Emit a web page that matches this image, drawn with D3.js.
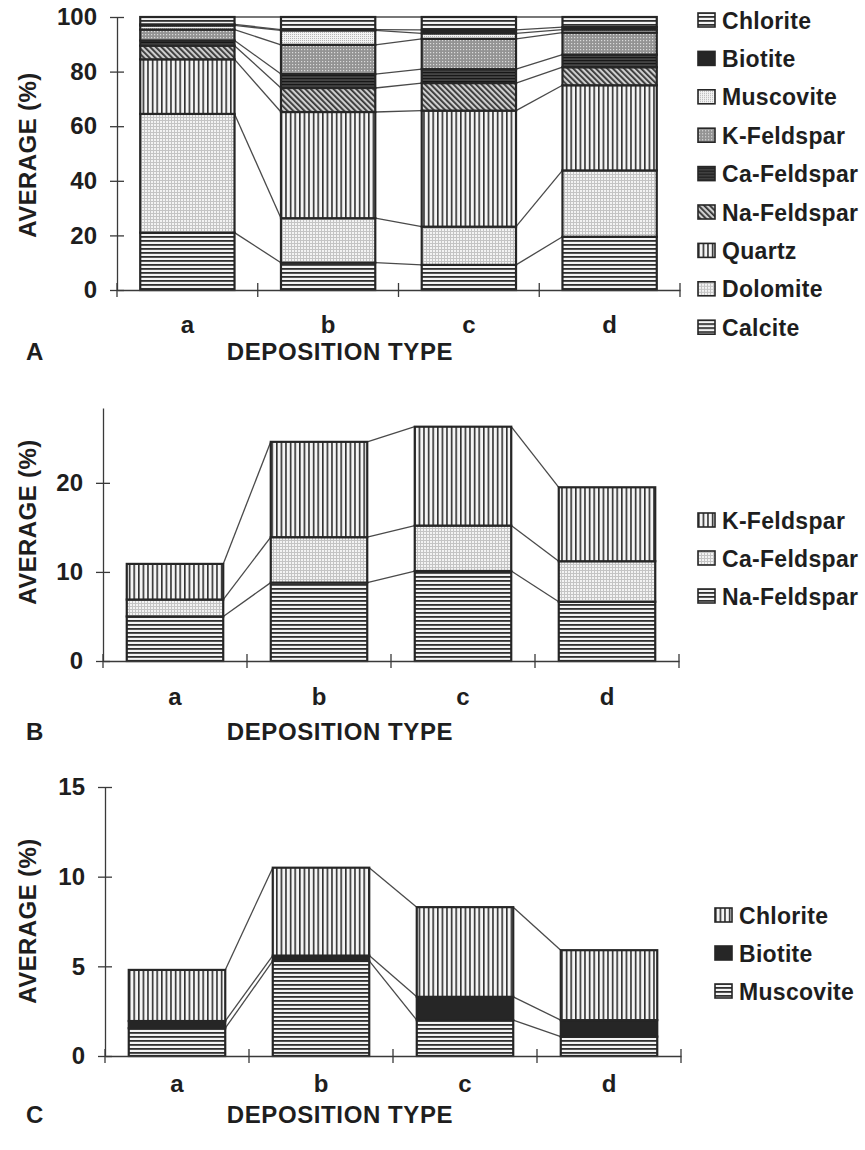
<!DOCTYPE html>
<html>
<head>
<meta charset="utf-8">
<script src="https://cdn.jsdelivr.net/npm/d3@7"></script>
<style>
  body { margin: 0; background: #fff; }
  svg text { font-family: "Liberation Sans", Arial, Helvetica, sans-serif; fill: #1e1e1e; font-weight: bold; }
</style>
</head>
<body>
<div id="chart"></div>
<script>
// Mineral composition by deposition type, three stacked panels (A, B, C).

const categories = ['a', 'b', 'c', 'd'];

// Panel A — all minerals, stacked bottom to top
const mineralsA   = ['Calcite', 'Dolomite', 'Quartz', 'Na-Feldspar', 'Ca-Feldspar', 'K-Feldspar', 'Muscovite', 'Biotite', 'Chlorite'];
const calciteA    = [21.0, 10.0, 9.2, 19.5];
const dolomiteA   = [43.5, 16.3, 14.0, 24.3];
const quartzA     = [20.0, 38.9, 42.5, 31.2];
const naFeldsparA = [5.0, 8.8, 10.1, 6.6];
const caFeldsparA = [1.9, 5.1, 5.1, 4.6];
const kFeldsparA  = [4.0, 10.7, 11.1, 8.1];
const muscoviteA  = [1.5, 5.3, 2.0, 1.1];
const biotiteA    = [0.4, 0.3, 1.3, 0.9];
const chloriteA   = [2.7, 4.6, 4.7, 3.7];
const ticksA      = [0, 20, 40, 60, 80, 100];

// Panel B — feldspars
const mineralsB   = ['Na-Feldspar', 'Ca-Feldspar', 'K-Feldspar'];
const naFeldsparB = [5.0, 8.8, 10.1, 6.65];
const caFeldsparB = [1.9, 5.1, 5.1, 4.55];
const kFeldsparB  = [4.0, 10.7, 11.1, 8.3];
const ticksB      = [0, 10, 20];

// Panel C — micas
const mineralsC   = ['Muscovite', 'Biotite', 'Chlorite'];
const muscoviteC  = [1.55, 5.3, 2.0, 1.08];
const biotiteC    = [0.4, 0.3, 1.3, 0.92];
const chloriteC   = [2.85, 4.9, 5.0, 3.9];
const ticksC      = [0, 5, 10, 15];

const W = 865, H = 1150;
const svg = d3.select('#chart').append('svg')
  .attr('width', W).attr('height', H)
  .attr('viewBox', [0, 0, W, H]);

// ---- fill patterns imitating the scanned hatching ----
const defs = svg.append('defs');

function pattern(id, w, h, draw, transform) {
  const p = defs.append('pattern').attr('id', id)
    .attr('patternUnits', 'userSpaceOnUse').attr('width', w).attr('height', h);
  if (transform) p.attr('patternTransform', transform);
  draw(p);
}

pattern('hline', 8, 4, p => {
  p.append('rect').attr('width', 8).attr('height', 4).attr('fill', '#f4f4f4');
  p.append('rect').attr('width', 8).attr('height', 1.8).attr('fill', '#303030');
});
pattern('vline', 4.6, 8, p => {
  p.append('rect').attr('width', 4.6).attr('height', 8).attr('fill', '#f4f4f4');
  p.append('rect').attr('width', 1.6).attr('height', 8).attr('fill', '#303030');
});
pattern('grid', 3, 3, p => {
  p.append('rect').attr('width', 3).attr('height', 3).attr('fill', '#f3f3f3');
  p.append('rect').attr('width', 3).attr('height', 1).attr('fill', '#c4c4c4');
  p.append('rect').attr('width', 1).attr('height', 3).attr('fill', '#c4c4c4');
});
pattern('diag', 4, 8, p => {
  p.append('rect').attr('width', 4).attr('height', 8).attr('fill', '#cfcfcf');
  p.append('rect').attr('width', 1.8).attr('height', 8).attr('fill', '#333');
}, 'rotate(-45)');
pattern('darkh', 6, 3, p => {
  p.append('rect').attr('width', 6).attr('height', 3).attr('fill', '#454545');
  p.append('rect').attr('width', 6).attr('height', 1.2).attr('fill', '#181818');
});
pattern('kgrey', 3, 3, p => {
  p.append('rect').attr('width', 3).attr('height', 3).attr('fill', '#939393');
  p.append('rect').attr('x', 1).attr('y', 1).attr('width', 1.2).attr('height', 1.2).attr('fill', '#dadada');
});
pattern('musc', 2, 2, p => {
  p.append('rect').attr('width', 2).attr('height', 2).attr('fill', '#f2f2f2');
  p.append('rect').attr('width', 1).attr('height', 1).attr('fill', '#b4b4b4');
});
pattern('solid', 4, 4, p => {
  p.append('rect').attr('width', 4).attr('height', 4).attr('fill', '#262626');
});

const ink = '#262626';

function drawPanel(p) {
  const g = svg.append('g');

  const x = d3.scaleBand().domain(categories)
    .range([p.x0, p.x1]).paddingInner(0.33).paddingOuter(0.165);
  const y = d3.scaleLinear().domain([0, p.yMax]).range([p.yBottom, p.yTop]);

  const rows = categories.map((c, i) => {
    const r = { cat: c };
    p.names.forEach((n, k) => { r[n] = p.series[k][i]; });
    return r;
  });
  const stacked = d3.stack().keys(p.names)(rows);

  // thin connectors between neighbouring bars at every layer boundary
  stacked.forEach(layer => {
    d3.pairs(layer).forEach(([l, r]) => {
      g.append('line')
        .attr('x1', x(l.data.cat) + x.bandwidth()).attr('y1', y(l[1]))
        .attr('x2', x(r.data.cat)).attr('y2', y(r[1]))
        .attr('stroke', '#4a4a4a').attr('stroke-width', 1.3);
    });
  });

  // stacked segments
  stacked.forEach((layer, k) => {
    g.append('g').selectAll('rect').data(layer).join('rect')
      .attr('x', d => x(d.data.cat))
      .attr('y', d => y(d[1]))
      .attr('width', x.bandwidth())
      .attr('height', d => y(d[0]) - y(d[1]))
      .attr('fill', `url(#${p.fills[k]})`)
      .attr('stroke', ink).attr('stroke-width', 2.2);
  });

  // y axis with ticks crossing the line
  const ya = g.append('g').attr('transform', `translate(${p.x0},0)`)
    .call(d3.axisLeft(y).tickValues(p.ticks).tickSize(7).tickSizeOuter(0).tickPadding(13));
  ya.selectAll('.tick line').attr('x1', 7);
  ya.selectAll('path, line').attr('stroke', '#3a3a3a').attr('stroke-width', 1.3);
  ya.selectAll('text').attr('font-size', 24).attr('font-family', null).attr('fill', null);

  // x axis: labels under bars, tick marks at band boundaries
  const xa = g.append('g').attr('transform', `translate(0,${p.yBottom})`)
    .call(d3.axisBottom(x).tickSize(0).tickSizeOuter(0));
  xa.select('.domain').attr('stroke', '#3a3a3a').attr('stroke-width', 1.3);
  xa.selectAll('text').attr('font-size', 24).attr('font-family', null).attr('fill', null)
    .attr('y', p.labelDy).attr('dy', 0);
  xa.selectAll('.bound').data(d3.range(categories.length + 1)).join('line')
    .attr('x1', i => p.x0 + i * x.step()).attr('x2', i => p.x0 + i * x.step())
    .attr('y1', -7).attr('y2', 7)
    .attr('stroke', '#3a3a3a').attr('stroke-width', 1.3);

  // axis titles and panel letter
  g.append('text')
    .attr('transform', `translate(36,${p.yTitleY}) rotate(-90)`)
    .attr('text-anchor', 'middle').attr('font-size', 24).attr('letter-spacing', 0.4)
    .text('AVERAGE (%)');
  g.append('text')
    .attr('x', 340).attr('y', p.titleY)
    .attr('text-anchor', 'middle').attr('font-size', 24).attr('letter-spacing', 0.6)
    .text('DEPOSITION TYPE');
  g.append('text')
    .attr('x', 26).attr('y', p.titleY)
    .attr('font-size', 24).attr('font-weight', 'normal')
    .text(p.letter);

  // legend (top entry listed first)
  const lg = g.append('g').selectAll('g').data(p.legend).join('g')
    .attr('transform', (d, i) => `translate(${p.legendX},${p.legendY + i * p.legendStep})`);
  lg.append('rect')
    .attr('x', 0).attr('y', -7).attr('width', 17).attr('height', 14)
    .attr('fill', d => `url(#${p.fills[p.names.indexOf(d)]})`)
    .attr('stroke', ink).attr('stroke-width', 1.6);
  lg.append('text')
    .attr('x', 24).attr('y', 8.5)
    .attr('font-size', 23).attr('letter-spacing', 0.3)
    .text(d => d);
}

drawPanel({
  letter: 'A',
  names: mineralsA,
  series: [calciteA, dolomiteA, quartzA, naFeldsparA, caFeldsparA, kFeldsparA, muscoviteA, biotiteA, chloriteA],
  fills: ['hline', 'grid', 'vline', 'diag', 'darkh', 'kgrey', 'musc', 'solid', 'hline'],
  ticks: ticksA, yMax: 100,
  x0: 117, x1: 680, yBottom: 290, yTop: 17,
  labelDy: 43, titleY: 360, yTitleY: 155,
  legend: mineralsA.slice().reverse(), legendX: 698, legendY: 20, legendStep: 38.4
});

drawPanel({
  letter: 'B',
  names: mineralsB,
  series: [naFeldsparB, caFeldsparB, kFeldsparB],
  fills: ['hline', 'grid', 'vline'],
  ticks: ticksB, yMax: 28.4,
  x0: 103, x1: 679, yBottom: 661, yTop: 408,
  labelDy: 44, titleY: 740, yTitleY: 522,
  legend: mineralsB.slice().reverse(), legendX: 698, legendY: 520, legendStep: 38
});

drawPanel({
  letter: 'C',
  names: mineralsC,
  series: [muscoviteC, biotiteC, chloriteC],
  fills: ['hline', 'solid', 'vline'],
  ticks: ticksC, yMax: 15,
  x0: 105, x1: 681, yBottom: 1056, yTop: 787,
  labelDy: 36, titleY: 1123, yTitleY: 921,
  legend: mineralsC.slice().reverse(), legendX: 715, legendY: 915, legendStep: 38
});
</script>
</body>
</html>
